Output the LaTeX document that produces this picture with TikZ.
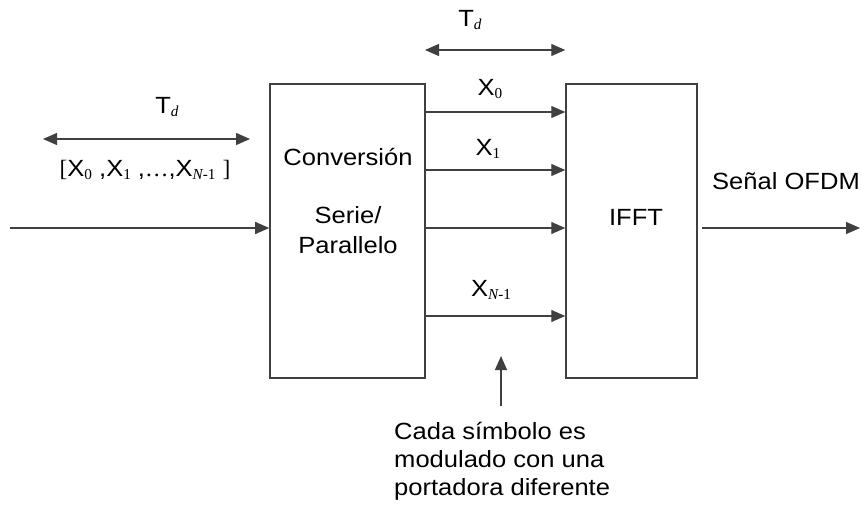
\documentclass[tikz,border=0pt]{standalone}
\usepackage{fontspec}
\setmainfont{Liberation Sans}[FakeStretch=1.09]
\newfontfamily\subfont{Liberation Serif}
\usetikzlibrary{arrows.meta,positioning,calc}
\newcommand{\sub}[1]{\raisebox{-0.2ex}{\fontsize{13}{13}\selectfont\subfont #1}}

\begin{document}
\begin{tikzpicture}[x=0.03cm,y=-0.03cm,
		box/.style={draw=black!75,line width=0.45mm,inner sep=0,minimum height=8.82cm},
		sig/.style={draw=black!75,line width=0.4mm,-{Triangle[length=4.2mm,width=3.6mm]}},
		dsig/.style={sig,{Triangle[length=4.2mm,width=3.6mm]}-{Triangle[length=4.2mm,width=3.6mm]}},
		lbl/.style={font=\fontsize{20}{24}\selectfont,inner sep=0}]
			%%%%% START %%%%%
			\useasboundingbox (0,0) rectangle (862,507);
			
			\node[box,minimum width=4.65cm] (conv) at (347.5,231) {};
			\node[box,minimum width=3.93cm] (ifft) at (631.5,231) {};
			
			\node[lbl] (conv1) at (348,157) {Conversión};
			\node[lbl] (conv2) at (348,215) {Serie/};
			\node[lbl] (conv3) at (348,245) {Parallelo};
			\node[lbl] (ifftlbl) at (636,217) {IFFT};
			
			% input side
			\coordinate (in) at (10,228);
			\draw[sig] (in) -- (in -| conv.west);
			\coordinate (tl) at (43,139);
			\coordinate (tr) at (250,139);
			\draw[dsig] (tl) -- (tr);
			\node[lbl] (tdin) at (167,107) {T\sub{\itshape d}};
			\node[lbl] (seq) at (145,170) {{\subfont[}X\sub{0} ,X\sub{1} ,{\subfont\dots},X\sub{\itshape N\upshape -1} {\subfont]}};
			
			% parallel lines
			\coordinate (p0) at (425,112);
			\coordinate (p1) at (425,170);
			\coordinate (p2) at (425,228);
			\coordinate (p3) at (425,316);
			\foreach \p in {p0,p1,p2,p3}
				\draw[sig] (\p) -- (\p -| ifft.west);
			\node[lbl] (x0) at (490,89) {X\sub{0}};
			\node[lbl] (x1) at (488,149) {X\sub{1}};
			\node[lbl] (xn) at (491,290) {X\sub{\itshape N\upshape -1}};
			
			\coordinate (ta) at (425,50);
			\draw[dsig] (ta) -- (ta -| ifft.west);
			\node[lbl] (tdout) at (470,20) {T\sub{\itshape d}};
			
			% output side
			\coordinate (out) at (860,228);
			\draw[sig] (ifft.east |- out) ++(4,0) -- (out);
			\node[lbl] (ofdm) at (786,181) {Señal OFDM};
			
			% note
			\node[lbl,align=left,anchor=north west] (note) at (394,422) {Cada símbolo es\\modulado con una\\portadora diferente};
			\coordinate (up) at (501,406);
			\draw[sig] (up) -- ++(0,-50);
			%%%%% END %%%%%
\end{tikzpicture}
\end{document}
